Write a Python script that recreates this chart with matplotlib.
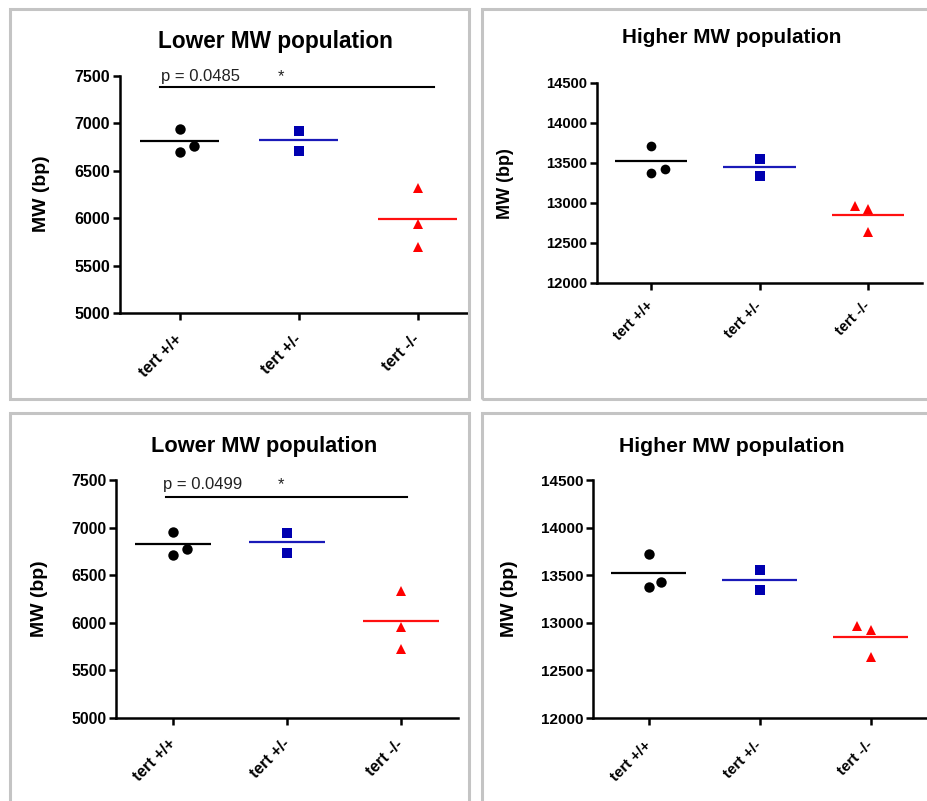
import matplotlib
matplotlib.use("Agg")
import matplotlib.pyplot as plt
from matplotlib.patches import Rectangle

plt.rcParams['font.family'] = ['Liberation Sans', 'DejaVu Sans']

W, H = 927, 801

# ---------------- data ----------------
groups = ["tert +/+", "tert +/-", "tert -/-"]
colors = ["#000000", "#0000b0", "#ff0000"]
line_colors = ["#000000", "#1a1ab8", "#ff1010"]
markers = ["o", "s", "^"]

# Panel A (top-left): Lower MW population
a_wt = [6941, 6702, 6765]
a_wt_dx = [0.0, 0.0, 0.126]
a_het = [6920, 6709]
a_het_dx = [0.0, 0.0]
a_ko = [6322, 5939, 5700]
a_ko_dx = [0.0, 0.0, 0.0]
a_means = [6814, 6825, 5995]

# Panel B (top-right): Higher MW population
b_wt = [13715, 13379, 13425]
b_wt_dx = [0.0, 0.0, 0.13]
b_het = [13553, 13342]
b_het_dx = [0.0, 0.0]
b_ko = [12964, 12923, 12636]
b_ko_dx = [-0.115, 0.0, 0.0]
b_means = [13525, 13450, 12852]

# Panel C (bottom-left): Lower MW population
c_wt = [6958, 6713, 6776]
c_wt_dx = [0.0, 0.0, 0.123]
c_het = [6941, 6731]
c_het_dx = [0.0, 0.0]
c_ko = [6335, 5951, 5727]
c_ko_dx = [0.0, 0.0, 0.0]
c_means = [6825, 6846, 6024]

# Panel D (bottom-right): Higher MW population
d_wt = [13720, 13374, 13433]
d_wt_dx = [0.0, 0.0, 0.115]
d_het = [13556, 13346]
d_het_dx = [0.0, 0.0]
d_ko = [12968, 12926, 12646]
d_ko_dx = [-0.12, 0.0, 0.0]
d_means = [13528, 13451, 12850]

lower_ticks = [5000, 5500, 6000, 6500, 7000, 7500]
higher_ticks = [12000, 12500, 13000, 13500, 14000, 14500]

p_a = "p = 0.0485"
p_c = "p = 0.0499"
sig_a_y = 7388
sig_c_y = 7325

fig = plt.figure(figsize=(W / 100, H / 100), dpi=100)
fig.patch.set_facecolor("white")

# panel frames (pixel coords: x0, y0_top, x1, y1_bottom)
frames = [(10, 9, 469, 399), (482, 9, 940, 399), (10, 413, 469, 815), (482, 413, 940, 815)]
for x0, y0, x1, y1 in frames:
    fig.patches.append(Rectangle((x0 / W, 1 - y1 / H), (x1 - x0) / W, (y1 - y0) / H,
                                 transform=fig.transFigure, fill=False,
                                 edgecolor="#c4c4c4", linewidth=2.2, zorder=0))


def make_axes(l, t, r, b, xmax):
    ax = fig.add_axes([l / W, 1 - b / H, (r - l) / W, (b - t) / H])
    ax.set_facecolor("none")
    ax.set_xlim(-0.5, xmax)
    return ax


def draw_panel(ax, series, dxs, means, yticks, tick_fs, xpad, msize):
    for i, (vals, dx) in enumerate(zip(series, dxs)):
        xs = [i + d for d in dx]
        ax.plot(xs, vals, linestyle="none", marker=markers[i], color=colors[i],
                markersize=msize, markeredgewidth=0, clip_on=False, zorder=3)
        ax.plot([i - 0.335, i + 0.335], [means[i], means[i]], color=line_colors[i],
                linewidth=1.6, solid_capstyle="butt", zorder=2)
    ax.set_ylim(yticks[0], yticks[-1])
    ax.set_yticks(yticks)
    ax.set_yticklabels([str(v) for v in yticks], fontsize=tick_fs, fontweight="bold")
    ax.set_xticks([0, 1, 2])
    ax.set_xticklabels(groups, fontsize=tick_fs, fontweight="bold", rotation=45,
                       ha="right", va="center", rotation_mode="anchor")
    for s in ["top", "right"]:
        ax.spines[s].set_visible(False)
    for s in ["left", "bottom"]:
        ax.spines[s].set_linewidth(1.8)
    ax.tick_params(axis="both", direction="out", length=5, width=1.8)
    ax.tick_params(axis="y", pad=2)
    ax.tick_params(axis="x", pad=xpad)


# Panel A
axA = make_axes(120, 76, 467, 313, -0.5 + (467 - 120) / 119.0)
draw_panel(axA, [a_wt, a_het, a_ko], [a_wt_dx, a_het_dx, a_ko_dx], a_means,
           lower_ticks, 11.5, 12, 7.5)
axA.plot([-0.168, 2.14], [sig_a_y, sig_a_y], color="black", linewidth=1.5, clip_on=False)
axA.text(-0.154, 7447, p_a, fontsize=12, color="#222222", ha="left", va="baseline")
axA.text(0.857, 7447, "*", fontsize=12, color="#222222", ha="center", va="baseline")

# Panel B
axB = make_axes(597, 83, 922, 283, 2.5)
draw_panel(axB, [b_wt, b_het, b_ko], [b_wt_dx, b_het_dx, b_ko_dx], b_means,
           higher_ticks, 10.6, 10, 7)

# Panel C
axC = make_axes(116, 480, 458, 718, 2.5)
draw_panel(axC, [c_wt, c_het, c_ko], [c_wt_dx, c_het_dx, c_ko_dx], c_means,
           lower_ticks, 11.4, 12, 7.5)
axC.plot([-0.064, 2.05], [sig_c_y, sig_c_y], color="black", linewidth=1.5, clip_on=False)
axC.text(-0.09, 7402, p_c, fontsize=12, color="#222222", ha="left", va="baseline")
axC.text(0.946, 7402, "*", fontsize=12, color="#222222", ha="center", va="baseline")

# Panel D
axD = make_axes(593, 480, 926, 718, 2.5)
draw_panel(axD, [d_wt, d_het, d_ko], [d_wt_dx, d_het_dx, d_ko_dx], d_means,
           higher_ticks, 11.0, 13, 7.5)

# titles (pixel x-centre, baseline y, size)
titles = [("Lower MW population", 275, 48, 16.3),
          ("Higher MW population", 732, 43, 14.9),
          ("Lower MW population", 264, 452, 15.7),
          ("Higher MW population", 732, 452, 15.3)]
for txt, x, y, fs in titles:
    fig.text(x / W, 1 - y / H, txt, fontsize=fs, fontweight="bold",
             ha="center", va="baseline")

# y labels (pixel centre x, y, size)
ylabels = [(42, 194, 14), (505, 184, 13), (40, 599, 14), (510, 599, 14)]
for x, y, fs in ylabels:
    fig.text(x / W, 1 - y / H, "MW (bp)", fontsize=fs, fontweight="bold",
             rotation=90, ha="center", va="center")

fig.savefig("out.png", dpi=100, facecolor="white")
